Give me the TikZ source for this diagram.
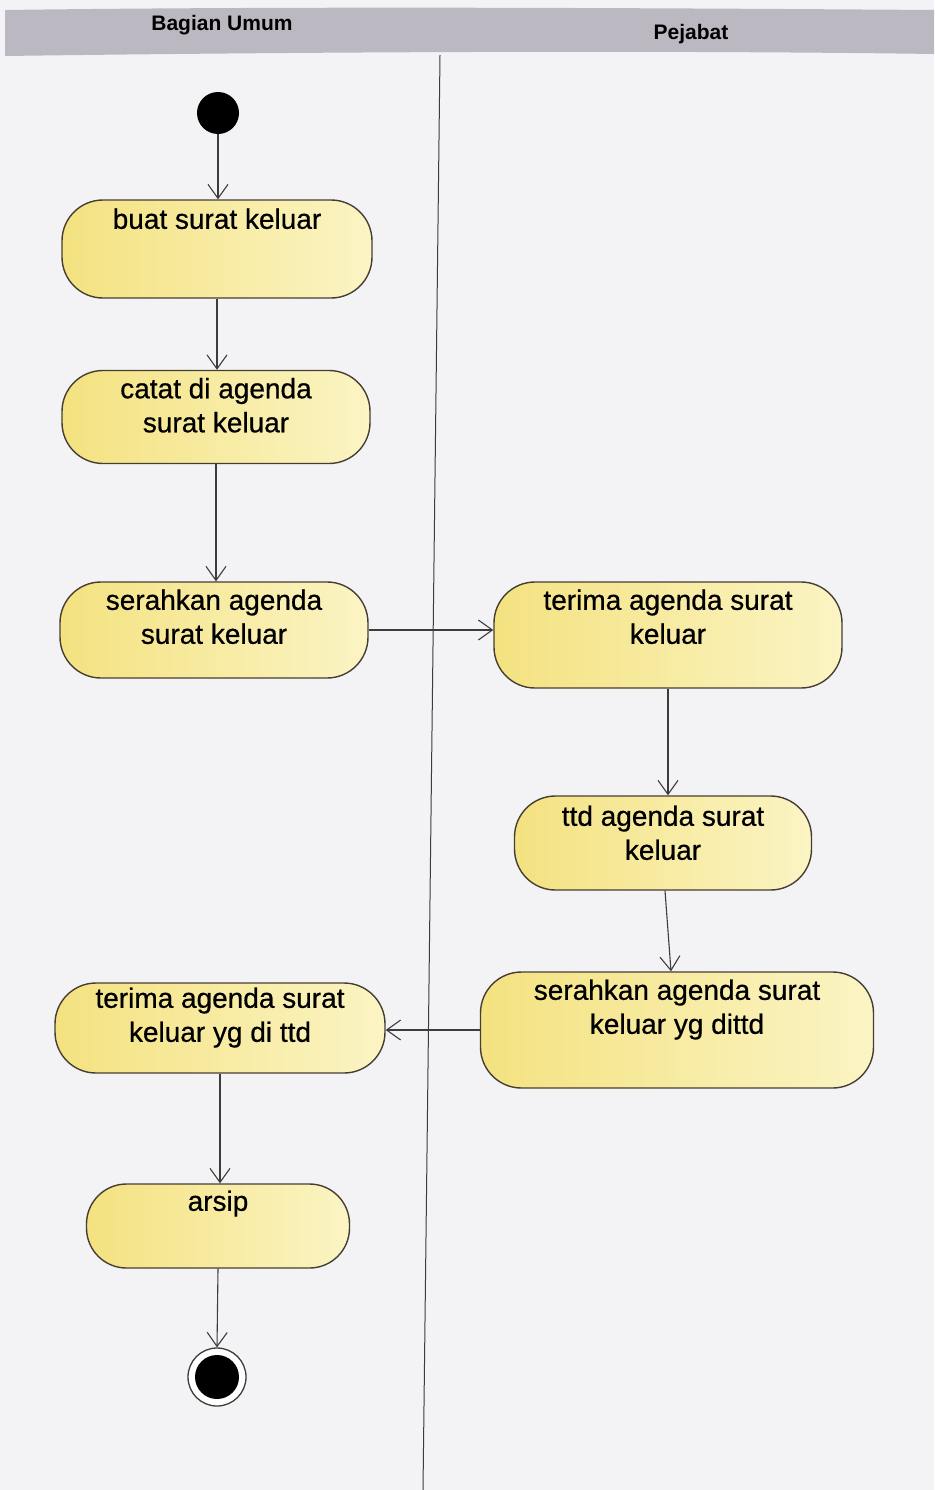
\documentclass[tikz,border=0pt]{standalone}
\usepackage{fontspec}
\setmainfont{Liberation Sans}
\newfontfamily\actfont{Liberation Sans}[FakeBold=0.6]
\usetikzlibrary{arrows.meta}
\definecolor{paper}{RGB}{243,243,245}
\definecolor{lanehead}{RGB}{188,184,194}
\definecolor{actleft}{RGB}{244,226,128}
\definecolor{actright}{RGB}{251,244,196}
\definecolor{edge}{RGB}{70,62,50}
\definecolor{wire}{RGB}{60,60,60}
\tikzset{
  x=1pt, y=-1pt,
  act/.style={draw=edge, line width=1.4pt, rounded corners=41pt,
    left color=actleft, right color=actright, inner sep=0pt},
  acttext/.style={anchor=north, align=center, inner sep=0pt,
    font=\actfont\fontsize{28}{34}\selectfont},
  flow/.style={draw=wire, line width=1.1pt,
    -{Straight Barb[length=14pt,width=20pt,line width=1.1pt]}},
  lanelabel/.style={font=\bfseries\fontsize{21}{24}\selectfont, inner sep=0pt},
  startdot/.style={circle, fill=black, minimum size=42pt, inner sep=0pt},
}
\begin{document}
\begin{tikzpicture}
% page
\fill[paper] (0,0) rectangle (934,1490);
\useasboundingbox (0,0) rectangle (934,1490);

% swimlane header and divider
\fill[lanehead] (5,10) .. controls (300,6) and (650,8) .. (934,10)
  -- (934,54) .. controls (650,50) and (300,52) .. (5,56) -- cycle;
\node[lanelabel] (laneA) at (222,25) {Bagian Umum};
\node[lanelabel] (laneB) at (691,34) {Pejabat};
\coordinate (divtop) at (440,55);
\coordinate (divbot) at (423,1490);
\draw[wire, line width=1pt] (divtop) -- (divbot);

% initial and final states
\node[startdot] (start) at (218,113) {};
\node[circle, draw=wire, line width=1.3pt, fill=white, minimum size=58pt, inner sep=0pt] (final) at (217,1377) {};
\node[startdot, minimum size=44pt] (finaldot) at (final.center) {};

% activities
\node[act, minimum width=310pt, minimum height=98pt] (buat) at (217,249) {};
\node[acttext] (buatT) at ([yshift=-9pt]buat.north) {buat surat keluar};

\node[act, minimum width=308pt, minimum height=93pt] (catat) at (216,417) {};
\node[acttext] (catatT) at ([yshift=-8pt]catat.north) {catat di agenda\\surat keluar};

\node[act, minimum width=308pt, minimum height=96pt] (serahA) at (214,630) {};
\node[acttext] (serahAT) at ([yshift=-8pt]serahA.north) {serahkan agenda\\surat keluar};

\node[act, minimum width=348pt, minimum height=106pt] (terimaB) at (668,635) {};
\node[acttext] (terimaBT) at ([yshift=-8pt]terimaB.north) {terima agenda surat\\keluar};

\node[act, minimum width=297pt, minimum height=94pt] (ttd) at (663,843) {};
\node[acttext] (ttdT) at ([yshift=-10pt]ttd.north) {ttd agenda surat\\keluar};

\node[act, minimum width=393pt, minimum height=116pt] (serahB) at (677,1030) {};
\node[acttext] (serahBT) at ([yshift=-8pt]serahB.north) {serahkan agenda surat\\keluar yg dittd};

\node[act, minimum width=330pt, minimum height=90pt] (terimaA) at (220,1028) {};
\node[acttext] (terimaAT) at ([yshift=-5pt]terimaA.north) {terima agenda surat\\keluar yg di ttd};

\node[act, minimum width=263pt, minimum height=84pt, rounded corners=40pt] (arsip) at (218,1226) {};
\node[acttext] (arsipT) at ([yshift=-7pt]arsip.north) {arsip};

% control flow
\draw[flow] (start.south) -- (start.south |- buat.north);
\draw[flow] (buat.south) -- (buat.south |- catat.north);
\draw[flow] (catat.south) -- (catat.south |- serahA.north);
\draw[flow] (serahA.east) -- (serahA.east -| terimaB.west);
\draw[flow] (terimaB.south) -- (terimaB.south |- ttd.north);
\draw[flow] ([xshift=2pt]ttd.south) -- ([xshift=-6pt]serahB.north);
\draw[flow] (serahB.west) -- (serahB.west -| terimaA.east);
\draw[flow] (terimaA.south) -- (terimaA.south |- arsip.north);
\draw[flow] (arsip.south) -- (final.north);
\end{tikzpicture}
\end{document}
